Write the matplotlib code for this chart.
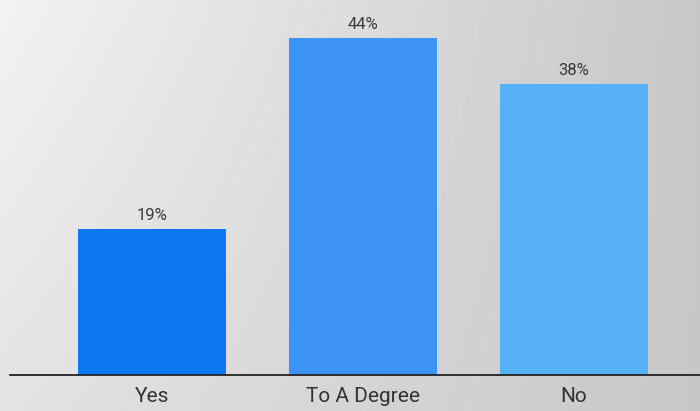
import matplotlib.pyplot as plt
import numpy as np

categories = ['Yes', 'To A Degree', 'No']
values = [19, 44, 38]
labels = ['19%', '44%', '38%']
colors = ['#0b78f0', '#3d94f4', '#57b1f7']

fig = plt.figure(figsize=(7, 4.11), dpi=100)

# grey gradient background
bg = fig.add_axes([0, 0, 1, 1])
xx, yy = np.meshgrid(np.linspace(0, 1, 200), np.linspace(0, 1, 120))
shade = 0.95 - 0.17 * xx - 0.06 * yy + 0.06 * xx * yy
bg.imshow(shade, cmap='gray', vmin=0, vmax=1, aspect='auto', extent=[0, 1, 0, 1], origin='upper')
bg.axis('off')

ax = fig.add_axes([0, 0.0876, 1, 0.9124])
ax.patch.set_alpha(0)
x = np.arange(len(categories))
ax.bar(x, values, width=0.70, color=colors, zorder=2)
for xi, v, l in zip(x, values, labels):
    ax.text(xi, v + 0.8, l, ha='center', va='bottom', fontsize=12, color='#3a3a3a', family='Roboto')

ax.set_xlim(-0.72, 2.597)
ax.set_ylim(0, 48.96)
ax.set_xticks(x)
ax.set_xticklabels(categories, fontsize=15, color='#333333', family='Roboto')
ax.tick_params(axis='x', length=0, pad=9)
ax.set_yticks([])
for s in ['top', 'right', 'left']:
    ax.spines[s].set_visible(False)
ax.spines['bottom'].set_bounds(-0.673, 2.597)
ax.spines['bottom'].set_color('#222222')
ax.spines['bottom'].set_linewidth(1.3)
ax.spines['bottom'].set_zorder(3)

plt.savefig('out.png', dpi=100)
